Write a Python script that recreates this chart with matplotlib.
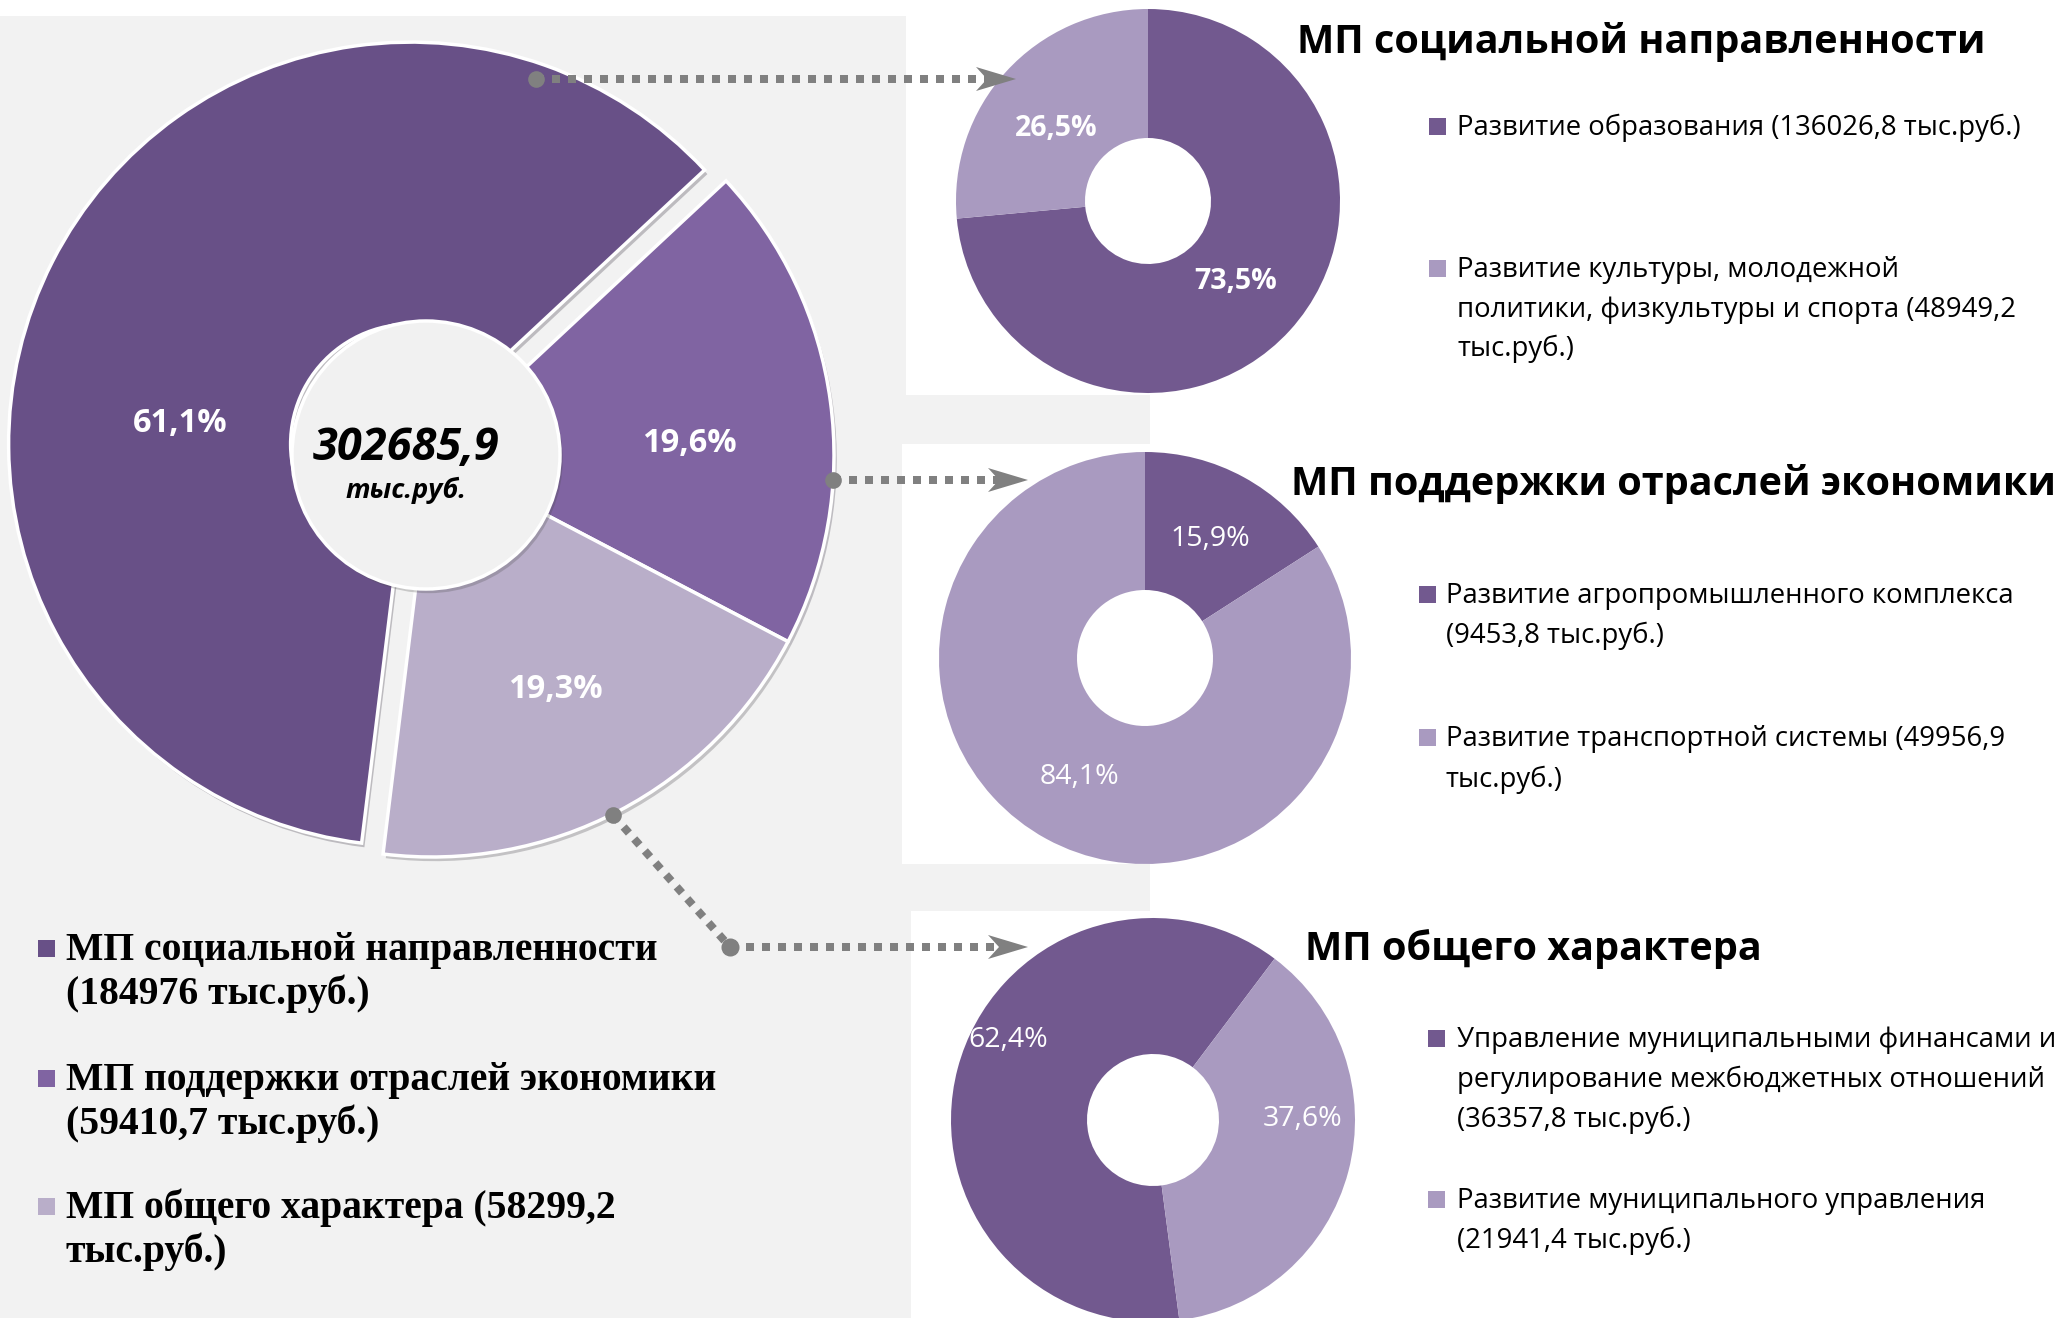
import matplotlib
matplotlib.use('Agg')
import numpy as np
import matplotlib.pyplot as plt
import matplotlib.patheffects as pe
from matplotlib.patches import Rectangle, Circle, Polygon
from matplotlib.lines import Line2D

plt.rcParams['font.family'] = ['Open Sans', 'DejaVu Sans']

W, H = 2064, 1318

# ---- data ----
main_values = [184976.0, 59410.7, 58299.2]
main_total = '302685,9'
main_unit = 'тыс.руб.'
main_legend = ['МП социальной направленности\n(184976 тыс.руб.)',
               'МП поддержки отраслей экономики\n(59410,7 тыс.руб.)',
               'МП общего характера (58299,2\nтыс.руб.)']

soc_title = 'МП социальной направленности'
soc_values = [136026.8, 48949.2]
soc_legend = ['Развитие образования (136026,8 тыс.руб.)',
              'Развитие культуры, молодежной\nполитики, физкультуры и спорта (48949,2\nтыс.руб.)']

eco_title = 'МП поддержки отраслей экономики'
eco_values = [9453.8, 49956.9]
eco_legend = ['Развитие агропромышленного комплекса\n(9453,8 тыс.руб.)',
              'Развитие транспортной системы (49956,9\nтыс.руб.)']

gen_title = 'МП общего характера'
gen_values = [36357.8, 21941.4]
gen_legend = ['Управление муниципальными финансами и\nрегулирование межбюджетных отношений\n(36357,8 тыс.руб.)',
              'Развитие муниципального управления\n(21941,4 тыс.руб.)']

# ---- colours ----
main_colors = ['#685087', '#8064a2', '#b9aec9']
sub_colors = ['#72598f', '#a99ac0']
panel_gray = '#f2f2f2'
arrow_gray = '#808080'


def pct_labels(vals):
    tot = sum(vals)
    return [f'{v / tot * 100:.1f}'.replace('.', ',') + '%' for v in vals]


fig = plt.figure(figsize=(W / 100, H / 100), dpi=100)
fig.patch.set_facecolor('white')

# background panels (pixel coordinates)
bg = fig.add_axes([0, 0, 1, 1], zorder=0)
bg.set_xlim(0, W)
bg.set_ylim(H, 0)
bg.axis('off')
bg.add_patch(Rectangle((0, 16), 1150, H - 16, color=panel_gray, lw=0))
bg.add_patch(Rectangle((906, 0), W - 906, 395, color='white', lw=0))
bg.add_patch(Rectangle((902, 444), W - 902, 420, color='white', lw=0))
bg.add_patch(Rectangle((911, 911), W - 911, H - 911, color='white', lw=0))


def px_axes(cx, cy, half, z=1):
    ax = fig.add_axes([(cx - half) / W, 1 - (cy + half) / H, 2 * half / W, 2 * half / H], zorder=z)
    return ax


def finish(ax, half):
    ax.set_xlim(-half, half)
    ax.set_ylim(-half, half)
    ax.set_aspect('equal')
    ax.axis('off')


def put_labels(ax, wedges, labels, R, shifts, dists, size, weight):
    for w, lab, sh, d in zip(wedges, labels, shifts, dists):
        ang = np.deg2rad((w.theta1 + w.theta2) / 2 + sh)
        x = w.center[0] + d * R * np.cos(ang)
        y = w.center[1] + d * R * np.sin(ang)
        ax.text(x, y, lab, color='white', fontsize=size, fontweight=weight,
                ha='center', va='center')


# ---- main donut ----
R0 = 402
half0 = 440
ax0 = px_axes(432, 455, half0, z=1)
shadow = [pe.SimplePatchShadow(offset=(2, -3), alpha=0.25), pe.Normal()]
w0, _ = ax0.pie(main_values, colors=main_colors, radius=R0, startangle=263,
                counterclock=False, explode=[24, 0, 0],
                wedgeprops=dict(width=R0 - 120, edgecolor='white', linewidth=2.5,
                                path_effects=shadow))
finish(ax0, half0)
ax0.add_patch(Circle((-6, 0), 134, facecolor='#f1f1f1', edgecolor='white', lw=2.5,
                     path_effects=shadow, zorder=3))
put_labels(ax0, w0, pct_labels(main_values), R0, [22, -5, 0], [0.575, 0.64, 0.66], 23.5, 'bold')
ax0.text(-26, -5, main_total, fontsize=32.5, fontweight='bold', style='italic',
         ha='center', va='baseline', zorder=4)
ax0.text(-26, -43, main_unit, fontsize=19.5, fontweight='bold', style='italic',
         ha='center', va='baseline', zorder=4)

# ---- small donuts ----
subs = [
    (soc_values, (1148, 201), 192, 63, 90, [0, 4], [0.62, 0.61], 'bold'),
    (eco_values, (1145, 658), 206, 68, 90, [0, 0], [0.66, 0.66], 'normal'),
    (gen_values, (1153, 1120), 202, 66, 277.5, [-14, 15], [0.82, 0.74], 'normal'),
]
for vals, (cx, cy), R, r_in, start, shifts, dists, wt in subs:
    ax = px_axes(cx, cy, R + 4, z=1)
    ws, _ = ax.pie(vals, colors=sub_colors, radius=R, startangle=start,
                   counterclock=False, wedgeprops=dict(width=R - r_in, linewidth=0))
    finish(ax, R + 4)
    put_labels(ax, ws, pct_labels(vals), R, shifts, dists, 20.5, wt)

# ---- overlay: arrows and text ----
top = fig.add_axes([0, 0, 1, 1], zorder=5)
top.set_xlim(0, W)
top.set_ylim(H, 0)
top.axis('off')

lw_pt = 8 * 72 / 100


def dotted(xs, ys, tip=None):
    top.add_line(Line2D(xs, ys, color=arrow_gray, lw=lw_pt, dashes=(1, 1),
                        solid_capstyle='butt', dash_capstyle='butt'))
    top.plot([xs[0]], [ys[0]], 'o', color=arrow_gray, ms=12, mew=0)
    if tip is not None:
        tx, ty = tip
        top.add_patch(Polygon([(tx, ty), (tx - 40, ty - 12), (tx - 29, ty), (tx - 40, ty + 12)],
                              closed=True, color=arrow_gray, lw=0))


dotted([536, 987], [79, 79], (1016, 79))
dotted([833, 999], [480, 480], (1028, 480))
dotted([613, 730], [815, 947])
dotted([730, 999], [947, 947], (1028, 947))
top.plot([730], [947], 'o', color=arrow_gray, ms=13, mew=0)

# titles
for txt, x, y in [(soc_title, 1297, 53), (eco_title, 1291, 495), (gen_title, 1305, 960)]:
    top.text(x, y, txt, fontsize=28.5, fontweight='bold', ha='left', va='baseline')


def legend_block(entries, colors, mx, tx, baselines, step, size, msize, moff,
                 family=None, weight='normal'):
    for lab, col, b in zip(entries, colors, baselines):
        top.add_patch(Rectangle((mx - msize / 2, b - moff - msize / 2), msize, msize,
                                color=col, lw=0))
        for i, line in enumerate(lab.split('\n')):
            kw = dict(fontsize=size, fontweight=weight, ha='left', va='baseline')
            if family:
                kw['family'] = family
            top.text(tx, b + i * step, line, **kw)


legend_block(soc_legend, sub_colors, 1437, 1457, [135, 277], 39.5, 19.8, 17, 9)
legend_block(eco_legend, sub_colors, 1427, 1446, [603, 746], 40.5, 19.8, 17, 9)
legend_block(gen_legend, sub_colors, 1436, 1457, [1047, 1208], 40, 19.8, 17, 9)
legend_block(main_legend, main_colors, 46, 66, [960, 1090, 1218], 44, 28.5, 17, 11.5,
             family=['Liberation Serif', 'DejaVu Serif'], weight='bold')

fig.savefig('out.png', dpi=100, facecolor='white')
